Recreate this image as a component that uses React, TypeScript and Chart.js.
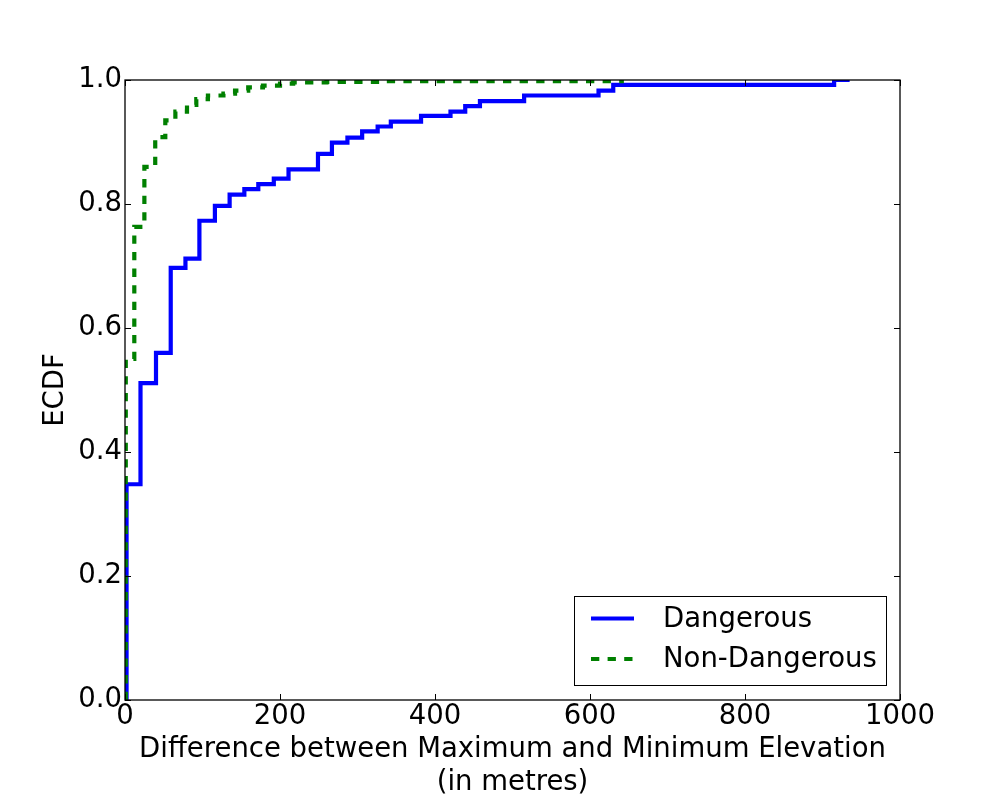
import React, { useEffect, useRef } from 'react';
import { Chart, registerables } from 'chart.js';

Chart.register(...registerables);

const FONT_FAMILY = '"DejaVu Sans", "Liberation Sans", sans-serif';
const FONT_SIZE = 27.5;

// Dangerous ECDF: x where the step jumps, and the ECDF value after the jump
const dangerousX = [2, 2, 20, 40, 59, 78, 96, 116, 135, 154, 172, 192, 211, 249, 267, 287, 306, 326, 343, 382, 420, 439, 458, 515, 611, 630, 915, 935];
const dangerousY = [0, 0.348, 0.511, 0.56, 0.697, 0.712, 0.773, 0.797, 0.815, 0.824, 0.832, 0.841, 0.856, 0.881, 0.899, 0.907, 0.917, 0.925, 0.933, 0.942, 0.949, 0.958, 0.966, 0.975, 0.983, 0.992, 1.0, 1.0];

// Non-Dangerous ECDF
const nonDangerousX = [1, 1, 12, 25, 39, 52, 65, 80, 92, 107, 127, 142, 159, 178, 200, 217, 260, 330, 641];
const nonDangerousY = [0, 0.55, 0.763, 0.86, 0.908, 0.935, 0.949, 0.96, 0.969, 0.975, 0.978, 0.983, 0.988, 0.991, 0.994, 0.996, 0.997, 0.998, 1.0];

const seriesLabels = ['Dangerous', 'Non-Dangerous'];
const xTickValues = [0, 200, 400, 600, 800, 1000];
const yTickValues = [0, 0.2, 0.4, 0.6, 0.8, 1.0];
const xTitle = ['Difference between Maximum and Minimum Elevation', '(in metres)'];
const yTitle = 'ECDF';

const BLUE = '#0000ff';
const GREEN = '#008000';
const DASH = [8.3, 8.3];

const toPoints = (xs: number[], ys: number[]) => xs.map((x, i) => ({ x, y: ys[i] }));

const framePlugin = {
  id: 'frameAndLegend',
  afterDatasetsDraw(chart: any) {
    const { ctx, chartArea } = chart;
    const { left, right, top, bottom } = chartArea;
    const xs = chart.scales.x;
    const ys = chart.scales.y;
    ctx.save();
    // inward tick marks on all four sides
    ctx.strokeStyle = '#000';
    ctx.lineWidth = 1;
    const TL = 6;
    xTickValues.forEach((v) => {
      const px = Math.round(xs.getPixelForValue(v)) + 0.5;
      ctx.beginPath();
      ctx.moveTo(px, bottom);
      ctx.lineTo(px, bottom - TL);
      ctx.moveTo(px, top);
      ctx.lineTo(px, top + TL);
      ctx.stroke();
    });
    yTickValues.forEach((v) => {
      const py = Math.round(ys.getPixelForValue(v)) + 0.5;
      ctx.beginPath();
      ctx.moveTo(left, py);
      ctx.lineTo(left + TL, py);
      ctx.moveTo(right, py);
      ctx.lineTo(right - TL, py);
      ctx.stroke();
    });
    // frame
    ctx.lineWidth = 1.3;
    ctx.strokeStyle = '#000';
    ctx.strokeRect(left, top, right - left, bottom - top);

    // legend (lower right, inside the axes)
    const bx = 574, by = 596, bw = 312, bh = 89;
    ctx.fillStyle = '#fff';
    ctx.fillRect(bx, by, bw, bh);
    ctx.lineWidth = 1;
    ctx.strokeStyle = '#000';
    ctx.strokeRect(bx + 0.5, by + 0.5, bw, bh);
    const rowsY = [618.5, 659];
    chart.data.datasets.forEach((ds: any, i: number) => {
      const y = rowsY[i];
      ctx.beginPath();
      ctx.setLineDash(ds.borderDash || []);
      ctx.lineCap = 'butt';
      ctx.strokeStyle = ds.borderColor;
      ctx.lineWidth = ds.borderWidth;
      ctx.moveTo(591, y);
      ctx.lineTo(634, y);
      ctx.stroke();
      ctx.setLineDash([]);
      ctx.fillStyle = '#000';
      ctx.font = `${FONT_SIZE}px ${FONT_FAMILY}`;
      ctx.textAlign = 'left';
      ctx.textBaseline = 'middle';
      ctx.fillText(ds.label, 663, y + 1);
    });
    ctx.restore();
  },
};

export default function App() {
  const canvasRef = useRef<HTMLCanvasElement | null>(null);

  useEffect(() => {
    document.body.style.margin = '0';
    const canvas = canvasRef.current;
    if (!canvas) return;
    const chart = new Chart(canvas, {
      type: 'line',
      data: {
        datasets: [
          {
            label: seriesLabels[0],
            data: toPoints(dangerousX, dangerousY),
            borderColor: BLUE,
            backgroundColor: BLUE,
            borderWidth: 4.2,
            stepped: 'before',
            pointRadius: 0,
            fill: false,
            borderCapStyle: 'butt',
            borderJoinStyle: 'miter',
            clip: 0,
            order: 2,
          } as any,
          {
            label: seriesLabels[1],
            data: toPoints(nonDangerousX, nonDangerousY),
            borderColor: GREEN,
            backgroundColor: GREEN,
            borderWidth: 4.2,
            borderDash: DASH,
            stepped: 'before',
            pointRadius: 0,
            fill: false,
            borderCapStyle: 'butt',
            borderJoinStyle: 'miter',
            clip: 0,
            order: 1,
          } as any,
        ],
      },
      options: {
        responsive: false,
        devicePixelRatio: 1,
        animation: false,
        layout: { padding: { top: 80, right: 100, left: 0, bottom: 0 } },
        plugins: {
          legend: { display: false },
          tooltip: { enabled: false },
        },
        scales: {
          x: {
            type: 'linear',
            min: 0,
            max: 1000,
            afterBuildTicks: (s: any) => {
              s.ticks = xTickValues.map((v) => ({ value: v }));
            },
            afterFit: (s: any) => {
              s.height = 100;
            },
            grid: { display: false, drawTicks: false },
            border: { display: false },
            ticks: {
              color: '#000',
              padding: 0,
              maxRotation: 0,
              autoSkip: false,
              font: { family: FONT_FAMILY, size: FONT_SIZE },
              callback: (v: any) => String(v),
            },
            title: {
              display: true,
              text: xTitle,
              color: '#000',
              font: { family: FONT_FAMILY, size: FONT_SIZE, lineHeight: 1.215 },
              padding: { top: 0, bottom: 0 },
            },
          },
          y: {
            type: 'linear',
            min: 0,
            max: 1,
            afterBuildTicks: (s: any) => {
              s.ticks = yTickValues.map((v) => ({ value: v }));
            },
            afterFit: (s: any) => {
              s.width = 125;
            },
            grid: { display: false, drawTicks: false },
            border: { display: false },
            ticks: {
              color: '#000',
              padding: 3,
              autoSkip: false,
              font: { family: FONT_FAMILY, size: FONT_SIZE },
              callback: (v: any) => Number(v).toFixed(1),
            },
            title: {
              display: true,
              text: yTitle,
              color: '#000',
              font: { family: FONT_FAMILY, size: FONT_SIZE },
              padding: { top: 39, bottom: 0 },
            },
          },
        },
      } as any,
      plugins: [framePlugin],
    });
    return () => chart.destroy();
  }, []);

  return (
    <div style={{ position: 'absolute', left: 0, top: 0, width: 1000, height: 800, background: '#fff' }}>
      <canvas ref={canvasRef} width={1000} height={800} style={{ display: 'block' }} />
    </div>
  );
}
